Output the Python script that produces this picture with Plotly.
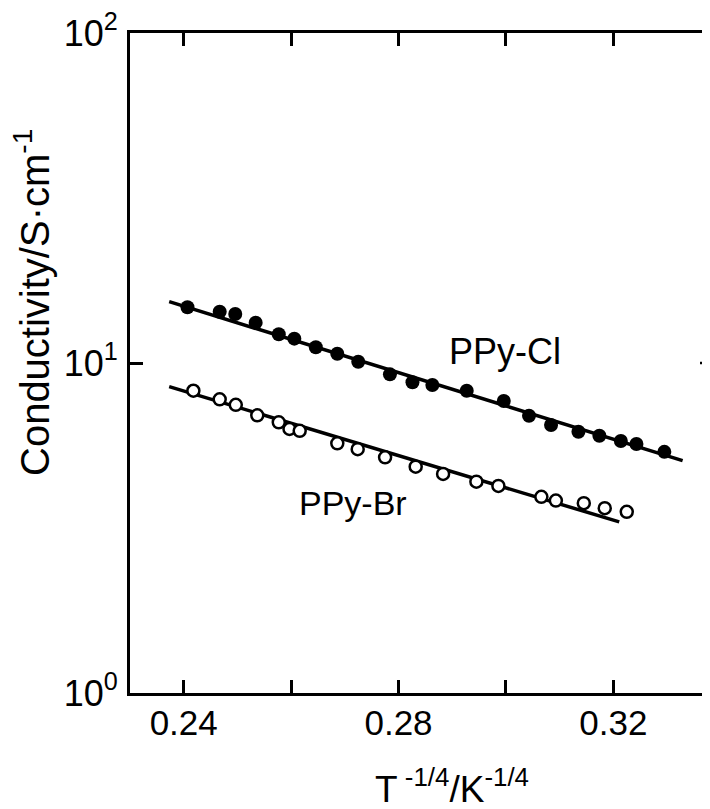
import plotly.graph_objects as go

# PPy-Cl (filled circles)
cl_x = [0.2407, 0.2467, 0.2496, 0.2534, 0.2577, 0.2606, 0.2646, 0.2686, 0.2725, 0.2784, 0.2826,
        0.2863, 0.2927, 0.2996, 0.3043, 0.3084, 0.3135, 0.3174, 0.3214, 0.3243, 0.3295]
cl_y = [14.75, 14.30, 14.08, 13.25, 12.22, 11.85, 11.16, 10.67, 10.09, 9.24, 8.74,
        8.58, 8.24, 7.67, 6.92, 6.49, 6.19, 6.02, 5.80, 5.68, 5.38]
cl_fit_x = [0.2373, 0.3329]
cl_fit_y = [15.34, 5.06]

# PPy-Br (open circles)
br_x = [0.2418, 0.2467, 0.2497, 0.2537, 0.2577, 0.2597, 0.2616, 0.2686, 0.2724, 0.2775, 0.2832,
        0.2883, 0.2945, 0.2986, 0.3066, 0.3093, 0.3145, 0.3184, 0.3225]
br_y = [8.24, 7.76, 7.47, 6.94, 6.61, 6.31, 6.23, 5.71, 5.48, 5.18, 4.85,
        4.61, 4.37, 4.24, 3.93, 3.83, 3.76, 3.63, 3.54]
br_fit_x = [0.2373, 0.3211]
br_fit_y = [8.48, 3.30]

x_ticks = [0.24, 0.26, 0.28, 0.30, 0.32]
x_tick_text = ['0.24', '', '0.28', '', '0.32']
y_ticks = [1, 10, 100]
y_tick_text = ['10<sup>0</sup>', '10<sup>1</sup>', '10<sup>2</sup>']

FONT = 'Liberation Sans'

fig = go.Figure()

fig.add_trace(go.Scatter(x=cl_fit_x, y=cl_fit_y, mode='lines',
                         line=dict(color='black', width=3.5), showlegend=False))
fig.add_trace(go.Scatter(x=br_fit_x, y=br_fit_y, mode='lines',
                         line=dict(color='black', width=3.5), showlegend=False))
fig.add_trace(go.Scatter(x=cl_x, y=cl_y, mode='markers',
                         marker=dict(symbol='circle', size=14, color='black'),
                         showlegend=False))
fig.add_trace(go.Scatter(x=br_x, y=br_y, mode='markers',
                         marker=dict(symbol='circle', size=12, color='white',
                                     line=dict(color='black', width=2.5)),
                         showlegend=False))

# page body adds an 8px margin, so the figure is 8px smaller than the window
fig.update_layout(
    width=702, height=801,
    margin=dict(l=122, r=0, t=25, b=116),
    paper_bgcolor='white', plot_bgcolor='white',
    font=dict(family=FONT, color='black', size=33),
    xaxis=dict(range=[0.23, 0.338], showgrid=False, zeroline=False, automargin=False,
               showline=True, linecolor='black', linewidth=3, mirror='ticks',
               ticks='inside', ticklen=13, tickwidth=2.5, tickcolor='black',
               tickvals=x_ticks, ticktext=x_tick_text, ticklabelstandoff=-3,
               ticklabeloverflow='allow', tickfont=dict(size=35)),
    yaxis=dict(type='log', range=[0, 2], showgrid=False, zeroline=False, automargin=False,
               showline=True, linecolor='black', linewidth=3,
               ticks='inside', ticklen=13, tickwidth=2.5, tickcolor='black',
               tickvals=y_ticks, ticktext=y_tick_text, ticklabelstandoff=2,
               ticklabeloverflow='allow', tickfont=dict(size=36)),
    shapes=[dict(type='line', xref='paper', yref='paper', x0=1 - 10 / 580, x1=1,
                 y0=0.5, y1=0.5, line=dict(color='black', width=2.5))],
    annotations=[
        dict(text='PPy-Cl', x=0.2999, y=1.036, xref='x', yref='y', showarrow=False,
             font=dict(size=36)),
        dict(text='PPy-Br', x=0.2715, y=0.575, xref='x', yref='y', showarrow=False,
             font=dict(size=34)),
        dict(text='T<sup> -1/4</sup>/K<sup>-1/4</sup>', x=(452 - 130) / 580, y=-0.141,
             xref='paper', yref='paper', showarrow=False, xanchor='center', yanchor='middle',
             font=dict(size=37)),
        dict(text='Conductivity/S·cm<sup>-1</sup>', x=(32 - 130) / 580, y=(693 - 303) / 660,
             xref='paper', yref='paper', showarrow=False, textangle=-90,
             xanchor='center', yanchor='middle', font=dict(size=40)),
    ],
)

fig.write_html('out.html')
